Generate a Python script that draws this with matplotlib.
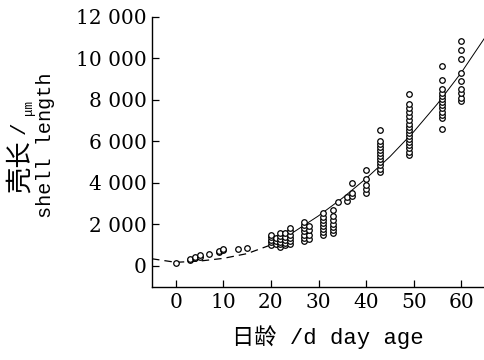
import matplotlib
matplotlib.use("Agg")
import matplotlib.pyplot as plt

# shell length (um) by day age
days = [0, 3, 4, 5, 7, 9, 10, 13, 15, 20, 21, 22, 23, 24, 27, 28, 31, 33,
        34, 36, 37, 40, 43, 49, 56, 60]
lengths = [
    [150],
    [280, 330],
    [360, 420],
    [430, 500],
    [560],
    [660, 720],
    [740, 780],
    [800],
    [870],
    [1000, 1130, 1250, 1380, 1500],
    [1050, 1200, 1350],
    [900, 1020, 1150, 1280, 1420, 1550],
    [980, 1100, 1250, 1400, 1550],
    [1050, 1200, 1350, 1500, 1650, 1800],
    [1210, 1350, 1500, 1650, 1800, 1950, 2100],
    [1300, 1500, 1700, 1900],
    [1460, 1600, 1750, 1900, 2050, 2200, 2350, 2520],
    [1550, 1700, 1850, 2000, 2200, 2400, 2670],
    [3075],
    [3100, 3300],
    [3350, 3500, 3970],
    [3480, 3700, 3900, 4200, 4615],
    [4530, 4680, 4830, 4980, 5130, 5280, 5430, 5580, 5730, 5880, 5990, 6560],
    [5340, 5500, 5650, 5800, 5950, 6100, 6250, 6400, 6550, 6700, 6850,
     7000, 7200, 7400, 7600, 7770, 8260],
    [6590, 7130, 7280, 7430, 7580, 7730, 7880, 8030, 8180, 8330, 8500,
     8950, 9630],
    [7950, 8100, 8300, 8500, 8900, 9310, 9960, 10410, 10850],
]

# fitted growth curve
curve_x = [-5, 0, 5, 10, 15, 20, 25, 30, 35, 40, 45, 50, 55, 60, 65]
curve_y = [330, 160, 220, 350, 580, 1000, 1650, 2400, 3250, 4200, 5250,
           6450, 7800, 9300, 11000]

yticks = [0, 2000, 4000, 6000, 8000, 10000, 12000]
ytick_labels = ["0", "2 000", "4 000", "6 000", "8 000", "10 000", "12 000"]
xticks = [0, 10, 20, 30, 40, 50, 60]

W, H = 485, 360
fig = plt.figure(figsize=(W / 100, H / 100), dpi=100)
ax = fig.add_axes([152 / W, 1 - 287 / H, (W - 152) / W, (287 - 16.7) / H])

xs, ys = [], []
for d, vals in zip(days, lengths):
    for v in vals:
        xs.append(d)
        ys.append(v)
ax.scatter(xs, ys, s=16, facecolors="white", edgecolors="black",
           linewidths=0.9, zorder=3)

# dashed in the lower part, solid above
lo = [i for i, x in enumerate(curve_x) if x <= 20]
hi = [i for i, x in enumerate(curve_x) if x >= 20]
ax.plot([curve_x[i] for i in lo], [curve_y[i] for i in lo], color="black",
        lw=0.9, dashes=(6, 4), zorder=2)
ax.plot([curve_x[i] for i in hi], [curve_y[i] for i in hi], color="black",
        lw=0.7, zorder=2)

ax.set_xlim(-5, 65)
ax.set_ylim(-1030, 12000)
ax.set_xticks(xticks)
ax.set_yticks(yticks)
ax.set_yticklabels(ytick_labels)
for s in ["top", "right"]:
    ax.spines[s].set_visible(False)
for s in ["left", "bottom"]:
    ax.spines[s].set_linewidth(1.0)
ax.tick_params(direction="in", length=5, width=0.9, pad=4)
for lab in ax.get_xticklabels() + ax.get_yticklabels():
    lab.set_fontfamily("DejaVu Serif")
    lab.set_fontsize(14.5)

cjk = ["Liberation Mono", "Noto Sans CJK SC"]
# y label: two lines
fig.text(20 / W, 1 - 193 / H, "壳长", rotation=90, ha="center", va="bottom",
         fontsize=19, family=cjk)
fig.text(19 / W, 1 - 128 / H, "/", rotation=90, ha="center", va="center",
         fontsize=15, family=cjk)
fig.text(29 / W, 1 - 107 / H, "μm", rotation=90, ha="center", va="center",
         fontsize=9, family=cjk)
fig.text(46 / W, 1 - 145 / H, "shell length", rotation=90, ha="center",
         va="center", fontsize=14.5, family=cjk)
# x label
fig.text(328 / W, 1 - 337 / H, "日龄 /d day age", ha="center", va="center",
         fontsize=16, family=cjk)

fig.savefig("out.png", dpi=100)
